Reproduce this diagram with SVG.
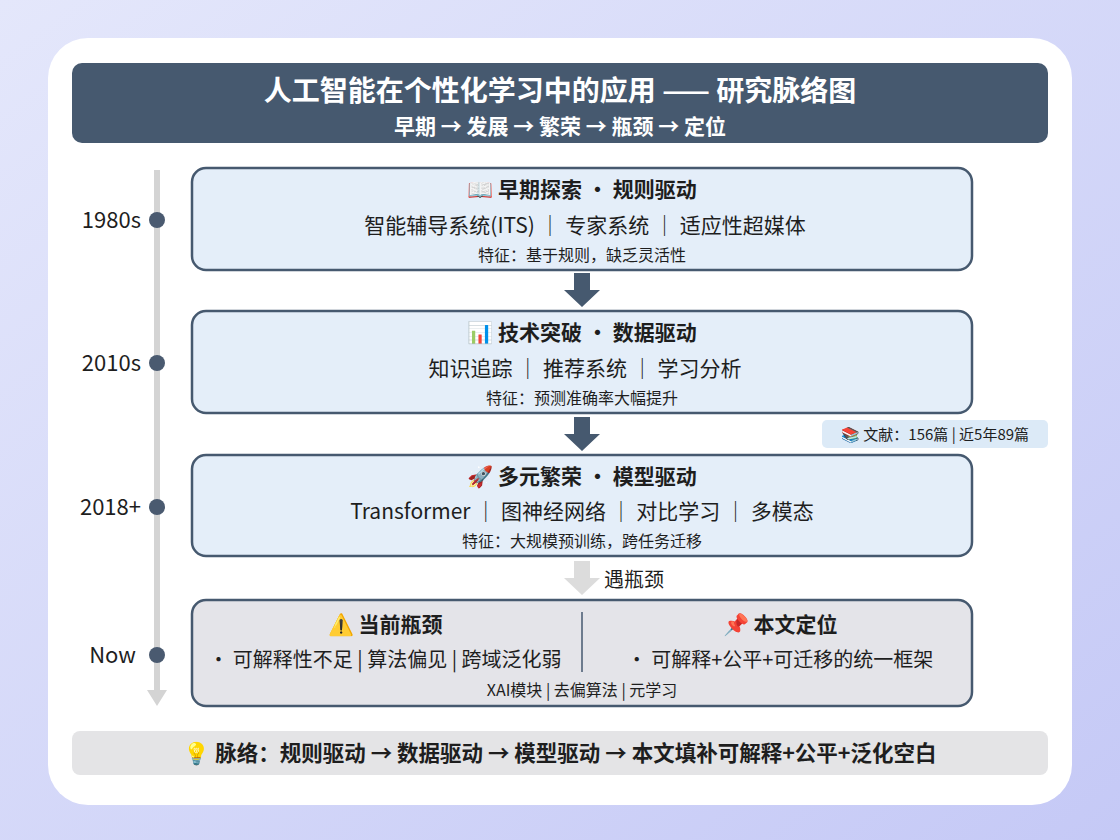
<svg xmlns="http://www.w3.org/2000/svg" width="1120" height="840" viewBox="0 0 1120 840">
<defs>
<linearGradient id="bg" x1="0" y1="0" x2="1" y2="1"><stop offset="0" stop-color="#e4e7fb"/><stop offset="1" stop-color="#c5c9f6"/></linearGradient>
<style>
text{font-family:"Noto Sans CJK SC","Noto Sans",sans-serif;fill:#1e1e1e}
.t{font-size:21px;font-weight:bold;text-anchor:middle}
.i{font-size:21px;text-anchor:middle}
.f{font-size:16px;text-anchor:middle}
.y{font-size:22px;text-anchor:end}
.box{fill:#e4eef9;stroke:#46596f;stroke-width:2.5}
.dot{fill:#4a5a70}
</style>
</defs>
<rect width="1120" height="840" fill="url(#bg)"/>
<rect x="48" y="38" width="1024" height="767" rx="40" fill="#fff"/>
<g id="title">
<rect x="72" y="63" width="976" height="80" rx="10" fill="#46596f"/>
<text x="560" y="101" style="font-size:28px;font-weight:bold;fill:#fff;text-anchor:middle">人工智能在个性化学习中的应用 —— 研究脉络图</text>
<text x="560" y="134" style="font-size:21px;font-weight:bold;fill:#fff;text-anchor:middle">早期 → 发展 → 繁荣 → 瓶颈 → 定位</text>
</g>
<g id="timeline">
<line x1="157" y1="170" x2="157" y2="692" stroke="#d4d4d4" stroke-width="6"/>
<path d="M147 690 L167 690 L157 706 Z" fill="#d4d4d4"/>
<circle class="dot" cx="157" cy="220" r="8"/><text class="y" x="141" y="228">1980s</text>
<circle class="dot" cx="157" cy="363" r="8"/><text class="y" x="141" y="371">2010s</text>
<circle class="dot" cx="157" cy="507" r="8"/><text class="y" x="141" y="515">2018+</text>
<circle class="dot" cx="157" cy="655" r="8"/><text class="y" x="136" y="663">Now</text>
</g>
<g id="n1">
<rect class="box" x="192" y="168" width="780" height="102" rx="14"/>
<text class="t" x="582" y="197">📖 早期探索 · 规则驱动</text>
<text class="i" x="585" y="233">智能辅导系统(ITS) ｜ 专家系统 ｜ 适应性超媒体</text>
<text class="f" x="582" y="261">特征：基于规则，缺乏灵活性</text>
</g>
<g id="n2">
<rect class="box" x="192" y="311" width="780" height="102" rx="14"/>
<text class="t" x="582" y="340">📊 技术突破 · 数据驱动</text>
<text class="i" x="585" y="376">知识追踪 ｜ 推荐系统 ｜ 学习分析</text>
<text class="f" x="582" y="404">特征：预测准确率大幅提升</text>
</g>
<g id="n3">
<rect class="box" x="192" y="455" width="780" height="101" rx="14"/>
<text class="t" x="582" y="484">🚀 多元繁荣 · 模型驱动</text>
<text class="i" x="582" y="519">Transformer ｜ 图神经网络 ｜ 对比学习 ｜ 多模态</text>
<text class="f" x="582" y="547">特征：大规模预训练，跨任务迁移</text>
</g>
<g id="n4">
<rect class="box" x="192" y="600" width="780" height="106" rx="14" style="fill:#e4e4e9"/>
<line x1="582" y1="612" x2="582" y2="672" stroke="#46596f" stroke-width="1.5"/>
<text class="t" x="385" y="632">⚠️ 当前瓶颈</text>
<text class="i" x="385" y="667" style="font-size:20px">• 可解释性不足 | 算法偏见 | 跨域泛化弱</text>
<text class="t" x="780" y="632">📌 本文定位</text>
<text class="i" x="780" y="667" style="font-size:20px">• 可解释+公平+可迁移的统一框架</text>
<text class="f" x="582" y="696">XAI模块 | 去偏算法 | 元学习</text>
</g>
<g id="badge">
<rect x="822" y="420" width="226" height="28" rx="5" fill="#dceaf7"/>
<text x="935" y="440" style="font-size:15px;text-anchor:middle">📚 文献：156篇 | 近5年89篇</text>
</g>
<g id="connectors">
<path d="M574 273 H590 V290 H600 L582 307 L564 290 H574 Z" fill="#46596f"/>
<path d="M574 417 H590 V434 H600 L582 451 L564 434 H574 Z" fill="#46596f"/>
<path d="M574 561 H590 V578 H600 L582 595 L564 578 H574 Z" fill="#dcdcdc"/>
<text x="604" y="587" style="font-size:20px">遇瓶颈</text>
</g>
<g id="summary">
<rect x="72" y="731" width="976" height="44" rx="8" fill="#e4e4e6"/>
<text x="560" y="761" class="t" style="font-size:21.5px">💡 脉络：规则驱动 → 数据驱动 → 模型驱动 → 本文填补可解释+公平+泛化空白</text>
</g>
</svg>
